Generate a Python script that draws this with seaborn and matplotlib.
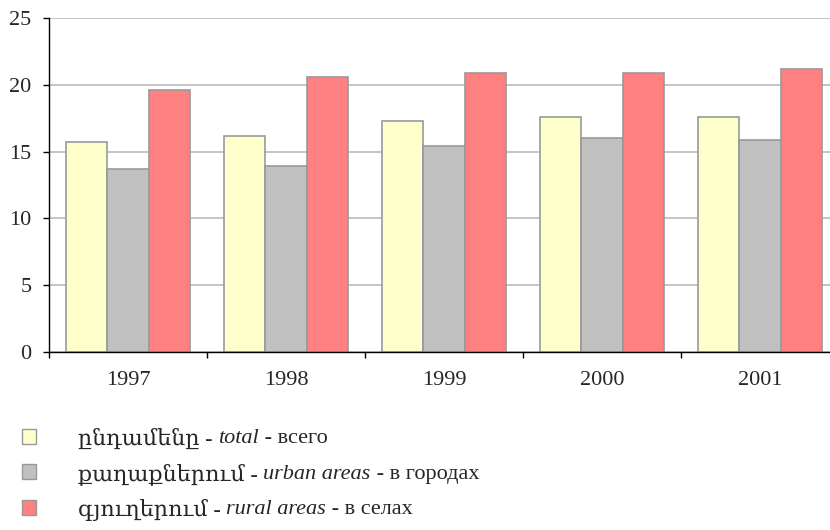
import pandas as pd
import numpy as np
import seaborn as sns
import matplotlib.pyplot as plt
from matplotlib.patches import Patch

years = ['1997', '1998', '1999', '2000', '2001']
total = [15.7, 16.2, 17.3, 17.6, 17.6]
urban = [13.7, 13.9, 15.4, 16.0, 15.9]
rural = [19.6, 20.6, 20.9, 20.9, 21.2]

series = ['total', 'urban', 'rural']
# legend text split into (text, italic?) pieces
legend_parts = [
    [('ընդամենը - ', False), ('total', True), (' - всего', False)],
    [('քաղաքներում - ', False), ('urban areas', True), (' - в городах', False)],
    [('գյուղերում - ', False), ('rural areas', True), (' - в селах', False)],
]
colors = ['#FFFFCC', '#C0C0C0', '#FF8080']

df = pd.DataFrame({
    'year': years * 3,
    'value': total + urban + rural,
    'series': [s for s in series for _ in years],
})

sns.set_style('white')
fam = ['Liberation Serif', 'DejaVu Serif', 'DejaVu Sans']
plt.rcParams['font.family'] = fam
fs = 16

fig = plt.figure(figsize=(8.3, 5.3), dpi=100)
# plot area runs a little past the right edge of the picture, as in the original
ax = fig.add_axes([49 / 830, 1 - 352 / 530, 790 / 830, 334 / 530])

sns.barplot(data=df, x='year', y='value', hue='series', palette=colors,
            saturation=1, width=0.786, edgecolor='#999999', linewidth=1.2,
            ax=ax, legend=False)

ax.set_ylim(0, 25)
ax.set_xlim(-0.5, 4.5)
ax.set_yticks(range(0, 26, 5))
ax.yaxis.grid(True, color='#C0C0C0', linewidth=1.3)
ax.set_axisbelow(True)
ax.set_xlabel('')
ax.set_ylabel('')
for s in ['top', 'right']:
    ax.spines[s].set_visible(False)
for s in ['left', 'bottom']:
    ax.spines[s].set_color('black')
    ax.spines[s].set_linewidth(1)

ax.tick_params(axis='y', which='major', direction='out', length=4.5, left=True,
               width=1, color='black', labelsize=fs, pad=8)
ax.tick_params(axis='x', which='major', length=0, labelsize=fs, pad=14)
ax.set_xticks(np.arange(-0.5, 5, 1), minor=True)
ax.tick_params(axis='x', which='minor', direction='out', length=4.5, width=1,
               color='black', bottom=True)

handles = [Patch(facecolor=c, edgecolor='#999999', linewidth=1) for c in colors]
leg = fig.legend(handles, [' '] * 3, loc='upper left',
                 bbox_to_anchor=(22 / 830, 1 - 429 / 530), frameon=False,
                 fontsize=fs, handlelength=0.65, handleheight=0.65,
                 handletextpad=0, labelspacing=0.68, borderpad=0,
                 borderaxespad=0)

fig.canvas.draw()
r = fig.canvas.get_renderer()
for h, parts in zip(leg.legend_handles, legend_parts):
    bb = h.get_window_extent(r)
    yc = (bb.y0 + bb.y1) / 2
    x = 78
    for txt, it in parts:
        t = fig.text(x / 830, yc / 530, txt, fontsize=fs, family=fam,
                     style='italic' if it else 'normal',
                     va='center_baseline', ha='left')
        x = t.get_window_extent(r).x1

fig.savefig('out.png', dpi=100)
